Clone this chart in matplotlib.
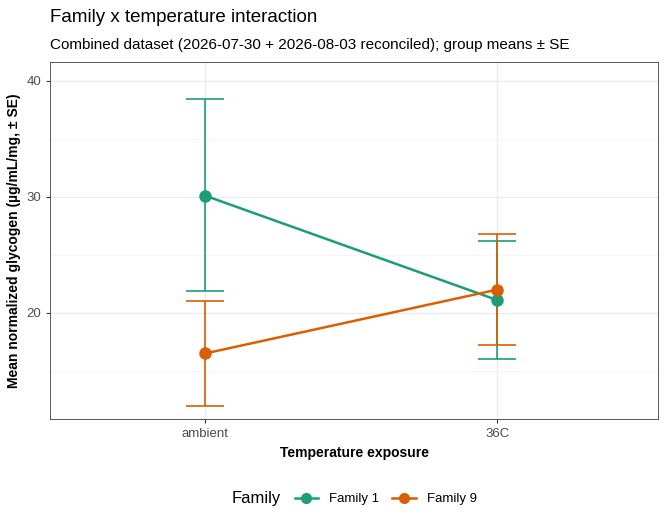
import matplotlib
matplotlib.use('Agg')
import matplotlib.pyplot as plt
from matplotlib.lines import Line2D
from matplotlib.offsetbox import HPacker

temps = ["ambient", "36C"]
families = ["Family 1", "Family 9"]
means = {"Family 1": [30.1, 21.1], "Family 9": [16.5, 22.0]}
upper = {"Family 1": [38.4, 26.2], "Family 9": [21.0, 26.8]}
lower = {"Family 1": [21.9, 16.0], "Family 9": [12.0, 17.2]}
colors = {"Family 1": "#1B9E77", "Family 9": "#D95F02"}

plt.rcParams['font.family'] = ['Liberation Sans', 'DejaVu Sans']
fig = plt.figure(figsize=(6.72, 5.28), dpi=100)
ax = fig.add_axes([50/672, 1 - 419/528, 608/672, 357/528])

x = list(range(1, len(temps) + 1))
handles = []
for fam in families:
    m = means[fam]
    yerr = [[a - b for a, b in zip(m, lower[fam])], [b - a for a, b in zip(m, upper[fam])]]
    ax.errorbar(x, m, yerr=yerr, color=colors[fam], lw=1.8, marker='o', ms=8,
                capsize=14, capthick=1.2, elinewidth=1.2)
    handles.append(Line2D([], [], color=colors[fam], lw=1.8, marker='o', ms=7, label=fam))

ax.set_xlim(0.47, 2.55)
ax.set_ylim(10.86, 41.6)
ax.set_xticks(x)
ax.set_xticklabels(temps)
ax.set_yticks([20, 30, 40])
ax.set_yticks([15, 25, 35], minor=True)
ax.grid(True, which='major', color='#EBEBEB', lw=1.0)
ax.grid(True, which='minor', color='#F4F4F4', lw=0.6)
ax.set_axisbelow(True)
for s in ax.spines.values():
    s.set_color('#555555')
    s.set_linewidth(0.7)
ax.tick_params(which='both', colors='#333333', labelsize=9.5, labelcolor='#4D4D4D', length=3)
ax.tick_params(which='minor', length=0)
ax.set_xlabel("Temperature exposure", fontsize=10, fontweight='bold')
ax.set_ylabel("Mean normalized glycogen (µg/mL/mg, ± SE)", fontsize=10, fontweight='bold')

fig.text(50/672, 1 - 17/528, "Family x temperature interaction", fontsize=13.5, va='center')
fig.text(50/672, 1 - 45/528, "Combined dataset (2026-07-30 + 2026-08-03 reconciled); group means ± SE",
         fontsize=11, va='center')

leg = fig.legend(handles=handles, loc='center', bbox_to_anchor=(354/672, 1 - 499/528), ncol=2,
                 frameon=False, title="Family", fontsize=9.5, title_fontsize=12,
                 handlelength=1.8, columnspacing=1.0)
box = leg._legend_box
box._children = [HPacker(children=box._children, align="center", pad=0, sep=10)]

fig.savefig("out.png", dpi=100)
